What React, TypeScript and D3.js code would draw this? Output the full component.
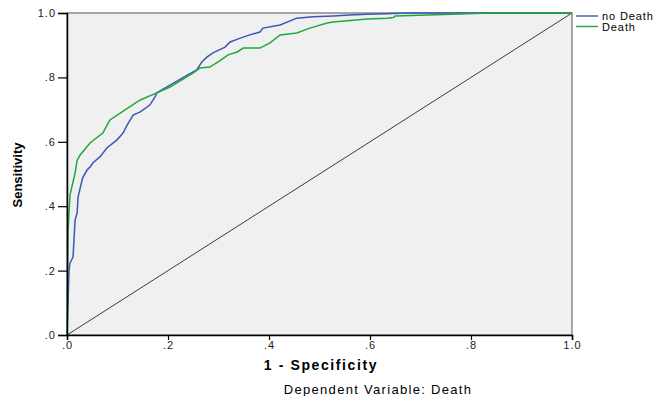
import * as d3 from "d3";
import { useEffect, useRef } from "react";

// ROC points, [1 - specificity, sensitivity]
const noDeathX = [0, 0.002, 0.004, 0.006, 0.012, 0.016, 0.02, 0.022, 0.03, 0.032, 0.04, 0.046, 0.051, 0.065, 0.079, 0.091, 0.099, 0.111, 0.119, 0.131, 0.145, 0.164, 0.174, 0.178, 0.204, 0.238, 0.257, 0.267, 0.277, 0.289, 0.313, 0.323, 0.343, 0.362, 0.382, 0.388, 0.422, 0.455, 0.487, 0.527, 0.56, 0.594, 0.63, 0.68, 1];
const noDeathY = [0, 0.1, 0.2, 0.224, 0.242, 0.357, 0.379, 0.429, 0.482, 0.491, 0.513, 0.522, 0.534, 0.553, 0.581, 0.596, 0.606, 0.627, 0.652, 0.683, 0.693, 0.714, 0.739, 0.752, 0.776, 0.807, 0.823, 0.848, 0.863, 0.876, 0.894, 0.91, 0.922, 0.932, 0.941, 0.953, 0.963, 0.984, 0.988, 0.991, 0.994, 0.996, 0.998, 1, 1];

const deathX = [0, 0.002, 0.004, 0.006, 0.016, 0.02, 0.026, 0.046, 0.071, 0.085, 0.109, 0.145, 0.178, 0.204, 0.25, 0.263, 0.283, 0.303, 0.319, 0.337, 0.349, 0.382, 0.402, 0.422, 0.455, 0.481, 0.515, 0.527, 0.594, 0.634, 0.646, 0.65, 0.778, 0.838, 1];
const deathY = [0, 0.32, 0.38, 0.435, 0.503, 0.543, 0.559, 0.597, 0.627, 0.668, 0.693, 0.73, 0.752, 0.77, 0.814, 0.829, 0.832, 0.852, 0.87, 0.879, 0.891, 0.891, 0.907, 0.932, 0.938, 0.953, 0.969, 0.972, 0.981, 0.984, 0.986, 0.991, 0.997, 1, 1];

const tickValues = [0, 0.2, 0.4, 0.6, 0.8, 1];
const tickLabels = [".0", ".2", ".4", ".6", ".8", "1.0"];
const seriesNames = ["no Death", "Death"];
const seriesColors = ["#3d57b3", "#1fa83e"];

export default function App() {
  const ref = useRef<SVGSVGElement | null>(null);

  useEffect(() => {
    if (!ref.current) return;
    const svg = d3.select(ref.current);
    svg.selectAll("*").remove();

    const left = 67, right = 572, top = 13, bottom = 335;
    const x = d3.scaleLinear().domain([0, 1]).range([left, right]);
    const y = d3.scaleLinear().domain([0, 1]).range([bottom, top]);
    const font = "Arial, 'Liberation Sans', sans-serif";

    svg.append("rect")
      .attr("x", left).attr("y", top)
      .attr("width", right - left).attr("height", bottom - top)
      .attr("fill", "#f0f0f0")
      .attr("stroke", "#6e6e6e").attr("stroke-width", 1.2);

    // reference diagonal
    svg.append("line")
      .attr("x1", x(0)).attr("y1", y(0)).attr("x2", x(1)).attr("y2", y(1))
      .attr("stroke", "#3c3c3c").attr("stroke-width", 1);

    const line = d3.line<[number, number]>()
      .x((d) => x(d[0]))
      .y((d) => y(d[1]));

    const series = [
      d3.zip(noDeathX, noDeathY) as [number, number][],
      d3.zip(deathX, deathY) as [number, number][],
    ];

    series.forEach((pts, i) => {
      svg.append("path")
        .datum(pts)
        .attr("d", line)
        .attr("fill", "none")
        .attr("stroke", seriesColors[i])
        .attr("stroke-width", 1.5);
    });

    // axes
    const yAxis = svg.append("g")
      .attr("transform", `translate(${left},0)`)
      .call(d3.axisLeft(y).tickValues(tickValues).tickSize(9).tickPadding(2)
        .tickFormat((_, i) => tickLabels[i]));
    const xAxis = svg.append("g")
      .attr("transform", `translate(0,${bottom})`)
      .call(d3.axisBottom(x).tickValues(tickValues).tickSize(5).tickPadding(1)
        .tickFormat((_, i) => tickLabels[i]));

    [yAxis, xAxis].forEach((g) => {
      g.select(".domain").attr("stroke", "#000").attr("stroke-width", 1.5);
      g.selectAll(".tick line").attr("stroke", "#000").attr("stroke-width", 1.2);
      g.selectAll("text")
        .attr("font-family", font).attr("font-size", 11)
        .attr("letter-spacing", 1)
        .attr("fill", "#222");
    });

    svg.append("text")
      .attr("transform", "translate(22,175) rotate(-90)")
      .attr("text-anchor", "middle")
      .attr("font-family", font).attr("font-size", 13).attr("font-weight", "bold")
      .text("Sensitivity");

    svg.append("text")
      .attr("x", 321).attr("y", 370)
      .attr("text-anchor", "middle")
      .attr("font-family", font).attr("font-size", 14).attr("font-weight", "bold")
      .attr("letter-spacing", 1.6)
      .text("1 - Specificity");

    svg.append("text")
      .attr("x", 378).attr("y", 394)
      .attr("text-anchor", "middle")
      .attr("font-family", font).attr("font-size", 13)
      .attr("letter-spacing", 1.3)
      .text("Dependent Variable: Death");

    // legend
    seriesNames.forEach((name, i) => {
      const ly = 16 + i * 10.5;
      svg.append("line")
        .attr("x1", 576).attr("x2", 598).attr("y1", ly).attr("y2", ly)
        .attr("stroke", seriesColors[i]).attr("stroke-width", 1.4);
      svg.append("text")
        .attr("x", 602).attr("y", ly + 4)
        .attr("font-family", font).attr("font-size", 11)
        .attr("letter-spacing", 0.9)
        .text(name);
    });
  }, []);

  return (
    <svg
      ref={ref}
      width={656}
      height={396}
      style={{ position: "absolute", left: 0, top: 0, background: "#fff" }}
    />
  );
}
